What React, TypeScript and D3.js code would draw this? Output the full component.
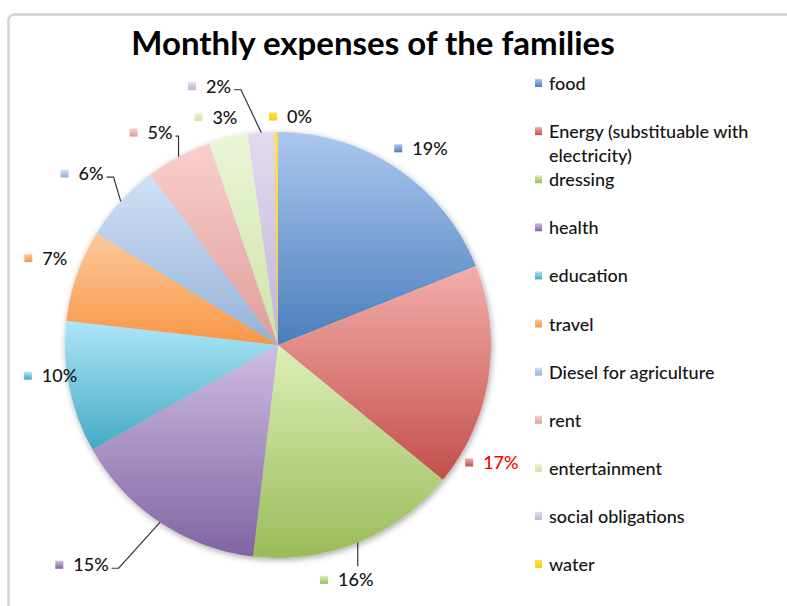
import * as d3 from "d3";

const WIDTH = 787;
const HEIGHT = 606;

// data
const categories = [
  "food",
  "Energy (substituable with electricity)",
  "dressing",
  "health",
  "education",
  "travel",
  "Diesel for agriculture",
  "rent",
  "entertainment",
  "social obligations",
  "water",
];
const shares = [19, 17, 16, 15, 10, 7, 6, 5, 3, 2, 0.25];

// palette: top (light) and bottom (dark) of each slice gradient
const lightColors = [
  "#abc7ef", "#f4aeab", "#dcefb7", "#cebde3", "#ade6f8", "#fdc99d",
  "#d0e1f6", "#f9cfcd", "#eaf5d7", "#e3daf0", "#ffe14d",
];
const darkColors = [
  "#4a7ebb", "#c24f4b", "#9bbb59", "#8064a2", "#46a9c4", "#f79646",
  "#93b1d6", "#df9d9b", "#cfe3a6", "#c3b3d9", "#ffcc00",
];

// layout tweaks for the data labels (Excel "best fit" + hand moved ones)
const LABEL_NUDGE: [number, number][] = [
  [4, 5], [-29, 81], [-25, 10], [-64, 18], [8, -17], [0, -7],
  [-14, -7], [-11, 3], [-3, 9], [-47, -16], [17, 15],
];
const WITH_LEADER = new Set([2, 3, 6, 7, 9]);
const LABEL_TEXT_COLOR: { [i: number]: string } = { 1: "#ff0000" };

const FONT = "Lato, 'Open Sans', sans-serif";
const TEXT_SIZE = 18;
const CX = 278;
const CY = 345;
const R = 213;

const measure = (() => {
  const ctx = document.createElement("canvas").getContext("2d");
  return (txt: string, size: number) => {
    if (!ctx) return txt.length * size * 0.55;
    ctx.font = `500 ${size}px Lato`;
    return ctx.measureText(txt).width;
  };
})();

const wrap = (txt: string, maxChars: number) => {
  const words = txt.split(" ");
  const lines: string[] = [];
  let cur = "";
  words.forEach((w) => {
    const next = cur ? cur + " " + w : w;
    if (next.length > maxChars && cur) {
      lines.push(cur);
      cur = w;
    } else cur = next;
  });
  if (cur) lines.push(cur);
  return lines;
};

const PieChart = () => {
  const total = d3.sum(shares);
  const pie = d3
    .pie<number>()
    .sort(null)
    .value((d) => d);
  const arcs = pie(shares);

  const arc = d3.arc<d3.PieArcDatum<number>>().innerRadius(0).outerRadius(R);
  const edgeArc = d3
    .arc<d3.PieArcDatum<number>>()
    .innerRadius(R)
    .outerRadius(R);
  const labelArc = d3
    .arc<d3.PieArcDatum<number>>()
    .innerRadius(R + 30)
    .outerRadius(R + 30);

  const legendY = d3
    .scalePoint<string>()
    .domain(categories)
    .range([84, 565]);

  const fmt = (v: number) => `${Math.round((v / total) * 100)}%`;

  return (
    <svg
      width={WIDTH}
      height={HEIGHT}
      style={{ position: "absolute", left: 0, top: 0, background: "#fff" }}
      fontFamily={FONT}
    >
      <defs>
        {categories.map((c, i) => (
          <linearGradient key={c} id={`grad-${i}`} x1="0" y1="0" x2="0" y2="1">
            <stop offset="0%" stopColor={lightColors[i]} />
            <stop offset="100%" stopColor={darkColors[i]} />
          </linearGradient>
        ))}
        <filter id="pie-shadow" x="-10%" y="-10%" width="120%" height="120%">
          <feDropShadow dx="1" dy="2" stdDeviation="3" floodColor="#000" floodOpacity="0.35" />
        </filter>
      </defs>

      <rect
        x={8.5}
        y={14.5}
        width={820}
        height={620}
        rx={6}
        fill="#fff"
        stroke="#d3d3d3"
        strokeWidth={2.5}
      />

      <text
        x={373}
        y={55}
        textAnchor="middle"
        fontSize={33}
        fontWeight="bold"
        fill="#000"
      >
        Monthly expenses of the families
      </text>

      <g transform={`translate(${CX},${CY})`}>
        <g filter="url(#pie-shadow)">
          {arcs.map((a, i) => (
            <path key={i} d={arc(a)!} fill={`url(#grad-${i})`} />
          ))}
        </g>
      </g>

      {/* data labels */}
      {arcs.map((a, i) => {
        const [bx, by] = labelArc.centroid(a);
        const ax = CX + bx + LABEL_NUDGE[i][0];
        const ay = CY + by + LABEL_NUDGE[i][1];
        const txt = fmt(a.value);
        const textX = ax - 6;
        const textEnd = textX + measure(txt, TEXT_SIZE);
        const [ex0, ey0] = edgeArc.centroid(a);
        const ex = CX + ex0;
        const ey = CY + ey0;
        let leader: string | null = null;
        if (WITH_LEADER.has(i)) {
          if (ey < ay - 10 && ex > ax - 30 && ex < textEnd + 5) {
            leader = `M${ex},${ey}V${ay - 14}`;
          } else {
            const h = Math.min(7, Math.max(0, ex - textEnd - 3));
            leader = `M${textEnd + 3},${ay + 3}h${h}L${ex},${ey}`;
          }
        }
        return (
          <g key={i}>
            {leader && (
              <path d={leader} fill="none" stroke="#333" strokeWidth={1.2} />
            )}
            <rect
              x={ax - 24}
              y={ay - 4.5}
              width={8}
              height={8}
              fill={`url(#grad-${i})`}
            />
            <text
              x={textX}
              y={ay + 6}
              fontSize={TEXT_SIZE}
              fontWeight={500}
              fill={LABEL_TEXT_COLOR[i] ?? "#141414"}
            >
              {txt}
            </text>
          </g>
        );
      })}

      {/* legend */}
      {categories.map((c, i) => {
        const y = legendY(c)!;
        const lines = wrap(c, 26);
        return (
          <g key={c}>
            <rect
              x={535}
              y={y - 5}
              width={7}
              height={8}
              fill={`url(#grad-${i})`}
            />
            <text
              x={549}
              y={y + 6}
              fontSize={TEXT_SIZE}
              fontWeight={500}
              fill="#141414"
            >
              {lines.map((l, k) => (
                <tspan key={k} x={549} dy={k === 0 ? 0 : 24}>
                  {l}
                </tspan>
              ))}
            </text>
          </g>
        );
      })}
    </svg>
  );
};

export default function App() {
  return <PieChart />;
}
